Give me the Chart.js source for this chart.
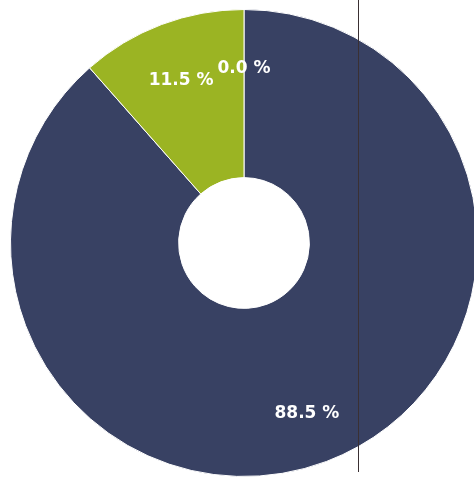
<!DOCTYPE html>
<html>
<head>
<meta charset="utf-8">
<script src="https://cdn.jsdelivr.net/npm/chart.js@4.4.1/dist/chart.umd.min.js"></script>
<style>
    html, body { margin: 0; padding: 0; background: #fff; overflow: hidden; width: 474px; height: 477px; }
    #wrap { position: absolute; left: 10px; top: 9px; width: 468px; height: 468px; }
    #scanLine { position: absolute; left: 358px; top: 0; width: 1px; height: 472px; background: #3a3033; }
</style>
</head>
<body>
<div id="wrap"><canvas id="donutChart"></canvas></div>
<div id="scanLine"></div>
<script>
// valeurs (en %)
const categories = ['A', 'B', 'C'];
const valeurs = [88.5, 11.5, 0.0];
const couleurs = ['#384163', '#9bb423', '#e8c4d0'];

// etiquettes blanches posees sur chaque part
const etiquettesParts = {
    id: 'etiquettesParts',
    afterDatasetsDraw(chart) {
        const ctx = chart.ctx;
        const meta = chart.getDatasetMeta(0);
        ctx.save();
        ctx.font = 'bold 17px "DejaVu Sans"';
        ctx.fillStyle = '#ffffff';
        ctx.textAlign = 'center';
        ctx.textBaseline = 'middle';
        meta.data.forEach((arc, i) => {
            const p = arc.getProps(['x', 'y', 'startAngle', 'endAngle', 'innerRadius', 'outerRadius'], true);
            const angle = (p.startAngle + p.endAngle) / 2;
            const r = p.innerRadius + 0.67 * (p.outerRadius - p.innerRadius);
            const x = p.x + Math.cos(angle) * r;
            const y = p.y + Math.sin(angle) * r + 4;
            ctx.fillText(valeurs[i].toFixed(1) + ' %', x, y);
        });
        ctx.restore();
    }
};

const chart = new Chart(document.getElementById('donutChart'), {
    type: 'doughnut',
    data: {
        labels: categories,
        datasets: [{
            data: valeurs,
            backgroundColor: couleurs,
            borderColor: '#ffffff',
            borderWidth: 1
        }]
    },
    options: {
        responsive: true,
        maintainAspectRatio: false,
        animation: false,
        cutout: '28%',
        layout: { padding: 0 },
        plugins: {
            legend: { display: false },
            tooltip: { enabled: false }
        }
    },
    plugins: [etiquettesParts]
});
</script>
</body>
</html>
